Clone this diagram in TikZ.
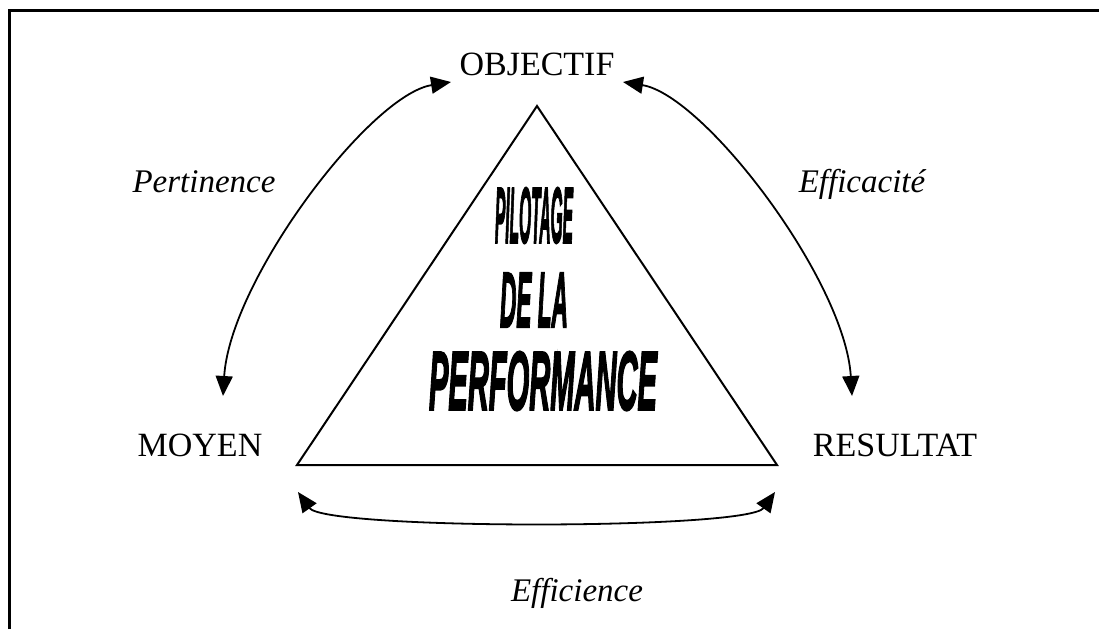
\documentclass[tikz,border=0pt]{standalone}
\usepackage{fontspec}
\usepackage{graphicx}
\setmainfont{Liberation Serif}
\newfontfamily\wordart[BoldItalicFeatures={FakeBold=3}]{Liberation Sans}
\usetikzlibrary{arrows.meta}
\begin{document}
\begin{tikzpicture}[x=1pt,y=-1pt,
  word/.style={font=\fontsize{34}{36}\selectfont, inner sep=0pt, anchor=base},
  arclabel/.style={word, font=\fontsize{33}{36}\selectfont\itshape},
  link/.style={line width=1.8pt,
    {Triangle[length=20pt,width=17pt]}-{Triangle[length=20pt,width=17pt]}},
  banner/.style={inner sep=0pt, font=\wordart\bfseries\itshape},
  edge/.style={line width=2pt, line join=miter}]
\useasboundingbox (0,0) rectangle (1099,629);

% open frame: top and left rules only
\draw[line width=3pt] (9,629) -- (9,10) -- (1099,10);

% the three poles
\node[word] (obj) at (537,75) {OBJECTIF};
\node[word] (moy) at (200,456) {MOYEN};
\node[word] (res) at (895,456) {RESULTAT};

% central triangle
\coordinate (apex) at (537,106);
\coordinate (bl) at (297,465);
\coordinate (br) at (777,465);
\draw[edge] (apex) -- (bl) -- (br) -- cycle;

% title inside the triangle
\node[banner] (t1) at (534,215.5) {\resizebox{78pt}{55pt}{PILOTAGE}};
\node[banner] (t2) at (534,300) {\resizebox{68pt}{54pt}{DE LA}};
\node[banner] (t3) at (543,381) {\resizebox{228pt}{58pt}{PERFORMANCE}};

% arrow end points
\coordinate (objL) at (451,82);
\coordinate (objR) at (623,82);
\coordinate (moyT) at (223,396);
\coordinate (resT) at (852,396);
\coordinate (moyR) at (298,492);
\coordinate (resL) at (775,492);

% double-headed arcs
\draw[link] (moyT) .. controls (230,280) and (370,95) .. (objL);
\draw[link] (resT) .. controls (845,280) and (704,95) .. (objR);
\draw[link] (moyR) .. controls (325,530) and (748,530) .. (resL);

% arc labels
\node[arclabel] (pert) at (204,192) {Pertinence};
\node[arclabel] (effc) at (862,192) {Efficacité};
\node[arclabel] (effi) at (577,601) {Efficience};
\end{tikzpicture}
\end{document}
